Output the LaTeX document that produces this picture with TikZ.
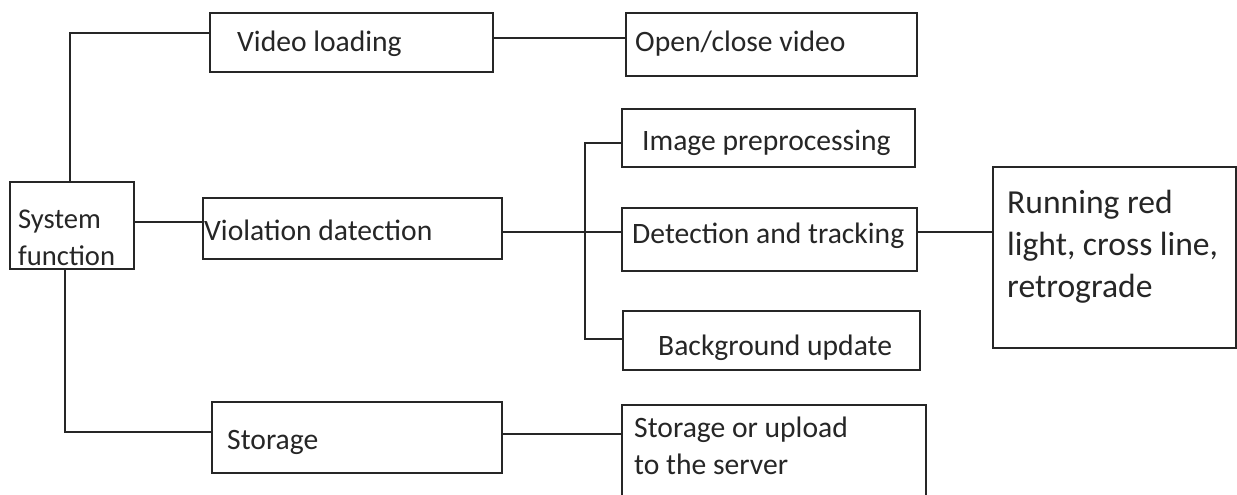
\documentclass[tikz,border=0pt]{standalone}
\usepackage{fontspec}
\setmainfont{Carlito}
\begin{document}
\begin{tikzpicture}[x=1pt,y=-1pt,
  box/.style={draw=black!85,line width=1.8pt,rectangle,inner sep=0pt,anchor=north west},
  conn/.style={draw=black!85,line width=1.6pt},
  txt/.style={anchor=base west,inner sep=0pt,text=black!85,font=\fontsize{29.6}{36}\selectfont},
  txtbig/.style={txt,font=\fontsize{33.6}{42}\selectfont},
  txtsf/.style={txt,font=\fontsize{28.6}{36}\selectfont}]
\useasboundingbox (0,0) rectangle (1237,495);
\clip (0,0) rectangle (1237,495);
\fill[white] (0,0) rectangle (1237,495);
% boxes
\node[box,minimum width=124pt,minimum height=87pt] (sf) at (9,181) {};
\node[box,minimum width=283pt,minimum height=59pt] (vl) at (209,12) {};
\node[box,minimum width=291pt,minimum height=63pt] (oc) at (625,12) {};
\node[box,minimum width=299pt,minimum height=61pt] (vd) at (202,197) {};
\node[box,minimum width=293pt,minimum height=58pt] (ip) at (621,108) {};
\node[box,minimum width=295pt,minimum height=63pt] (dt) at (621,207) {};
\node[box,minimum width=297pt,minimum height=59pt] (bu) at (622,310) {};
\node[box,minimum width=243pt,minimum height=181pt] (rr) at (992,166) {};
\node[box,minimum width=290pt,minimum height=71pt] (st) at (211,401) {};
\node[box,minimum width=304pt,minimum height=120pt] (su) at (621,404) {};
% texts
\node[txtsf] (tsf1) at (18,228) {System};
\node[txtsf] (tsf2) at (18,265) {function};
\node[txt] (tvl) at (237,52) {Video loading};
\node[txt] (toc) at (635,52) {Open/close video};
\node[txt] (tvd) at (204,240) {Violation datection};
\node[txt] (tip) at (642,150) {Image preprocessing};
\node[txt] (tdt) at (632,243) {Detection and tracking};
\node[txt] (tbu) at (658,355) {Background update};
\node[txt] (tst) at (227,449) {Storage};
\node[txt] (tsu1) at (634,437) {Storage or upload};
\node[txt] (tsu2) at (634,474) {to the server};
\node[txtbig] (trr1) at (1007,213) {Running red};
\node[txtbig] (trr2) at (1007,255) {light, cross line,};
\node[txtbig] (trr3) at (1007,297) {retrograde};
% connector helpers
\coordinate (hVL) at (0,38);
\coordinate (hVD) at (0,222);
\coordinate (hDT) at (0,232);
\coordinate (hST) at (0,434);
\coordinate (j1) at (70,33);
\coordinate (j2) at (585,143);
\coordinate (j3) at (585,339);
\coordinate (j4) at (65,432);
% connectors
\draw[conn] (sf.north -| j1) -- (j1) -- (j1 -| vl.west);
\draw[conn] (vl.east |- hVL) -- (oc.west |- hVL);
\draw[conn] (sf.east |- hVD) -- (vd.west |- hVD);
\draw[conn] (vd.east |- hDT) -- (dt.west |- hDT);
\draw[conn] (j2 -| ip.west) -- (j2) -- (j3) -- (j3 -| bu.west);
\draw[conn] (dt.east |- hDT) -- (rr.west |- hDT);
\draw[conn] (sf.south -| j4) -- (j4) -- (j4 -| st.west);
\draw[conn] (st.east |- hST) -- (su.west |- hST);
\end{tikzpicture}
\end{document}
